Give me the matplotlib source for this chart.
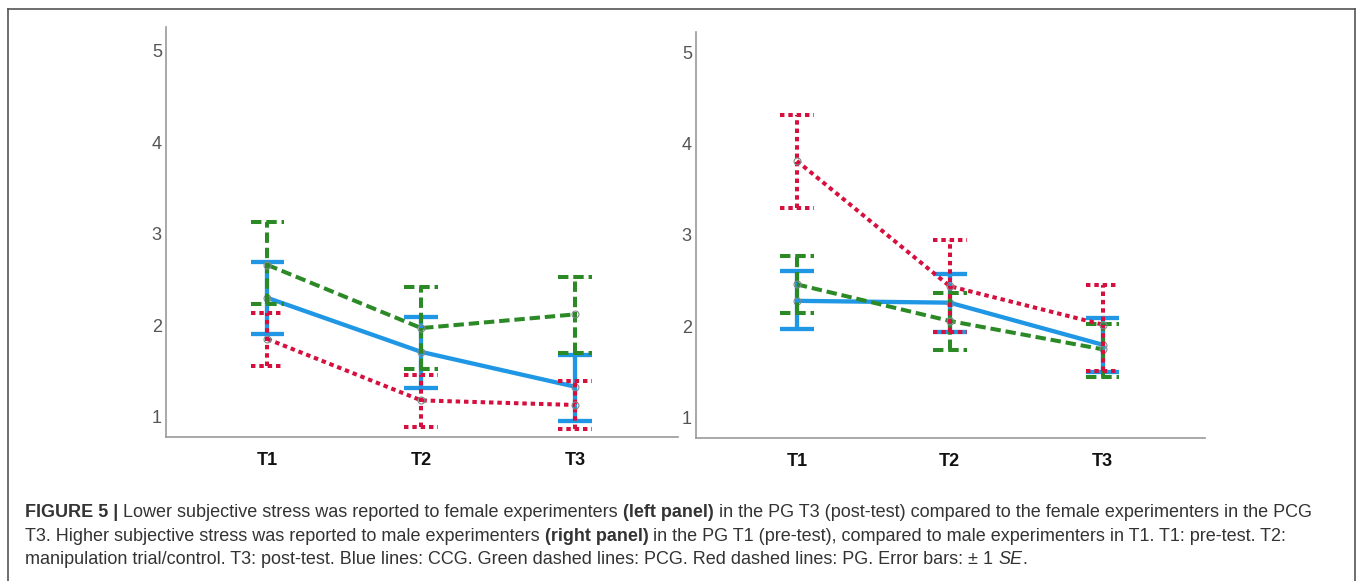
import matplotlib
matplotlib.use('Agg')
import matplotlib.pyplot as plt
import matplotlib.font_manager as fm
from matplotlib.lines import Line2D

plt.rcParams['lines.scale_dashes'] = False

# data
times = ['T1', 'T2', 'T3']
xpos = [1, 2, 3]

# left panel: female experimenters
left_ccg = [2.30, 1.71, 1.33]
left_ccg_hi = [2.69, 2.09, 1.68]
left_ccg_lo = [1.91, 1.32, 0.96]
left_pcg = [2.66, 1.97, 2.12]
left_pcg_hi = [3.13, 2.42, 2.53]
left_pcg_lo = [2.23, 1.52, 1.70]
left_pg = [1.85, 1.18, 1.13]
left_pg_hi = [2.13, 1.46, 1.39]
left_pg_lo = [1.56, 0.89, 0.87]

# right panel: male experimenters
right_ccg = [2.28, 2.26, 1.80]
right_ccg_hi = [2.61, 2.57, 2.09]
right_ccg_lo = [1.97, 1.94, 1.50]
right_pcg = [2.46, 2.06, 1.75]
right_pcg_hi = [2.77, 2.37, 2.03]
right_pcg_lo = [2.15, 1.74, 1.45]
right_pg = [3.81, 2.44, 2.02]
right_pg_hi = [4.31, 2.94, 2.45]
right_pg_lo = [3.30, 1.94, 1.51]

yticks = [1, 2, 3, 4, 5]

# fonts
names = {f.name for f in fm.fontManager.ttflist}
narrow = 'Liberation Sans Narrow' if 'Liberation Sans Narrow' in names else 'Liberation Sans'
sans = 'Liberation Sans'

# styles
blue = '#1f97e4'
green = '#2b8a26'
red = '#d5103e'
st_blue = dict(color=blue, lw=3.1, ls='-')
st_green = dict(color=green, lw=2.9, ls=(0, (7.5, 3.5)))
st_red = dict(color=red, lw=2.9, ls=(0, (3.2, 2.8)))
cap_w = 0.11

W, H = 1357, 581
fig = plt.figure(figsize=(W / 100, H / 100), dpi=100)


def px_axes(x0, x1, ytop, ybot):
    return fig.add_axes([x0 / W, 1 - ybot / H, (x1 - x0) / W, (ybot - ytop) / H])


def draw_series(ax, m, hi, lo, st):
    for x, a, b in zip(xpos, hi, lo):
        ax.plot([x, x], [b, a], solid_capstyle='butt', dash_capstyle='butt', **st)
        ax.plot([x - cap_w, x + cap_w], [a, a], solid_capstyle='butt', dash_capstyle='butt', **st)
        ax.plot([x - cap_w, x + cap_w], [b, b], solid_capstyle='butt', dash_capstyle='butt', **st)
    ax.plot(xpos, m, marker='o', ms=5, mfc='none', mec='#7d8c8c', mew=0.8,
            solid_capstyle='round', **st)


def style_axes(ax, ylim):
    ax.set_xlim(0.34, 3.67)
    ax.set_ylim(*ylim)
    for s in ['top', 'right']:
        ax.spines[s].set_visible(False)
    for s in ['left', 'bottom']:
        ax.spines[s].set_color('#9a9a9a')
        ax.spines[s].set_linewidth(1.2)
    ax.set_xticks(xpos)
    ax.set_xticklabels(times, fontfamily=narrow, fontweight='bold', fontsize=13, color='#111111')
    ax.set_yticks(yticks)
    ax.set_yticklabels([str(v) for v in yticks], fontfamily=narrow, fontsize=13, color='#555555')
    ax.tick_params(axis='x', length=0, pad=11)
    ax.tick_params(axis='y', length=0, pad=3)
    ax.patch.set_alpha(0)


ax1 = px_axes(166, 678, 27, 437)
draw_series(ax1, left_ccg, left_ccg_hi, left_ccg_lo, st_blue)
draw_series(ax1, left_pcg, left_pcg_hi, left_pcg_lo, st_green)
draw_series(ax1, left_pg, left_pg_hi, left_pg_lo, st_red)
style_axes(ax1, (0.78, 5.26))

ax2 = px_axes(696, 1205, 32, 438)
draw_series(ax2, right_ccg, right_ccg_hi, right_ccg_lo, st_blue)
draw_series(ax2, right_pcg, right_pcg_hi, right_pcg_lo, st_green)
draw_series(ax2, right_pg, right_pg_hi, right_pg_lo, st_red)
style_axes(ax2, (0.78, 5.22))

# frame around the figure
frame = dict(color='#555555', lw=1.2, transform=fig.transFigure)
fig.add_artist(Line2D([8 / W, 8 / W], [0, 1 - 9 / H], **frame))
fig.add_artist(Line2D([8 / W, 1355 / W], [1 - 9 / H, 1 - 9 / H], **frame))
fig.add_artist(Line2D([1355 / W, 1355 / W], [0, 1 - 9 / H], **frame))

# caption
renderer = fig.canvas.get_renderer()
cap_size = 13.0
cap_col = '#333333'


def text_w(s, weight='normal', style='normal'):
    t = fig.text(0, 0, s, fontsize=cap_size, family=sans, fontweight=weight, fontstyle=style)
    w = t.get_window_extent(renderer).width
    t.remove()
    return w


space_w = text_w('a a') - text_w('aa')


def rich_line(x, y, parts):
    for s, weight, style in parts:
        lead = len(s) - len(s.lstrip(' '))
        x += lead * space_w
        s2 = s.strip(' ')
        t = fig.text(x / W, 1 - y / H, s2, fontsize=cap_size, family=sans, fontweight=weight,
                     fontstyle=style, color=cap_col, va='baseline', ha='left')
        x += t.get_window_extent(renderer).width
        trail = len(s) - len(s.rstrip(' '))
        x += trail * space_w


rich_line(25, 517, [
    ('FIGURE 5 | ', 'bold', 'normal'),
    ('Lower subjective stress was reported to female experimenters ', 'normal', 'normal'),
    ('(left panel)', 'bold', 'normal'),
    (' in the PG T3 (post-test) compared to the female experimenters in the PCG', 'normal', 'normal'),
])
rich_line(25, 541, [
    ('T3. Higher subjective stress was reported to male experimenters ', 'normal', 'normal'),
    ('(right panel)', 'bold', 'normal'),
    (' in the PG T1 (pre-test), compared to male experimenters in T1. T1: pre-test. T2:', 'normal', 'normal'),
])
rich_line(25, 564, [
    ('manipulation trial/control. T3: post-test. Blue lines: CCG. Green dashed lines: PCG. '
     'Red dashed lines: PG. Error bars: \u00b1 1 ', 'normal', 'normal'),
    ('SE', 'normal', 'italic'),
    ('.', 'normal', 'normal'),
])

fig.savefig('out.png', dpi=100)
